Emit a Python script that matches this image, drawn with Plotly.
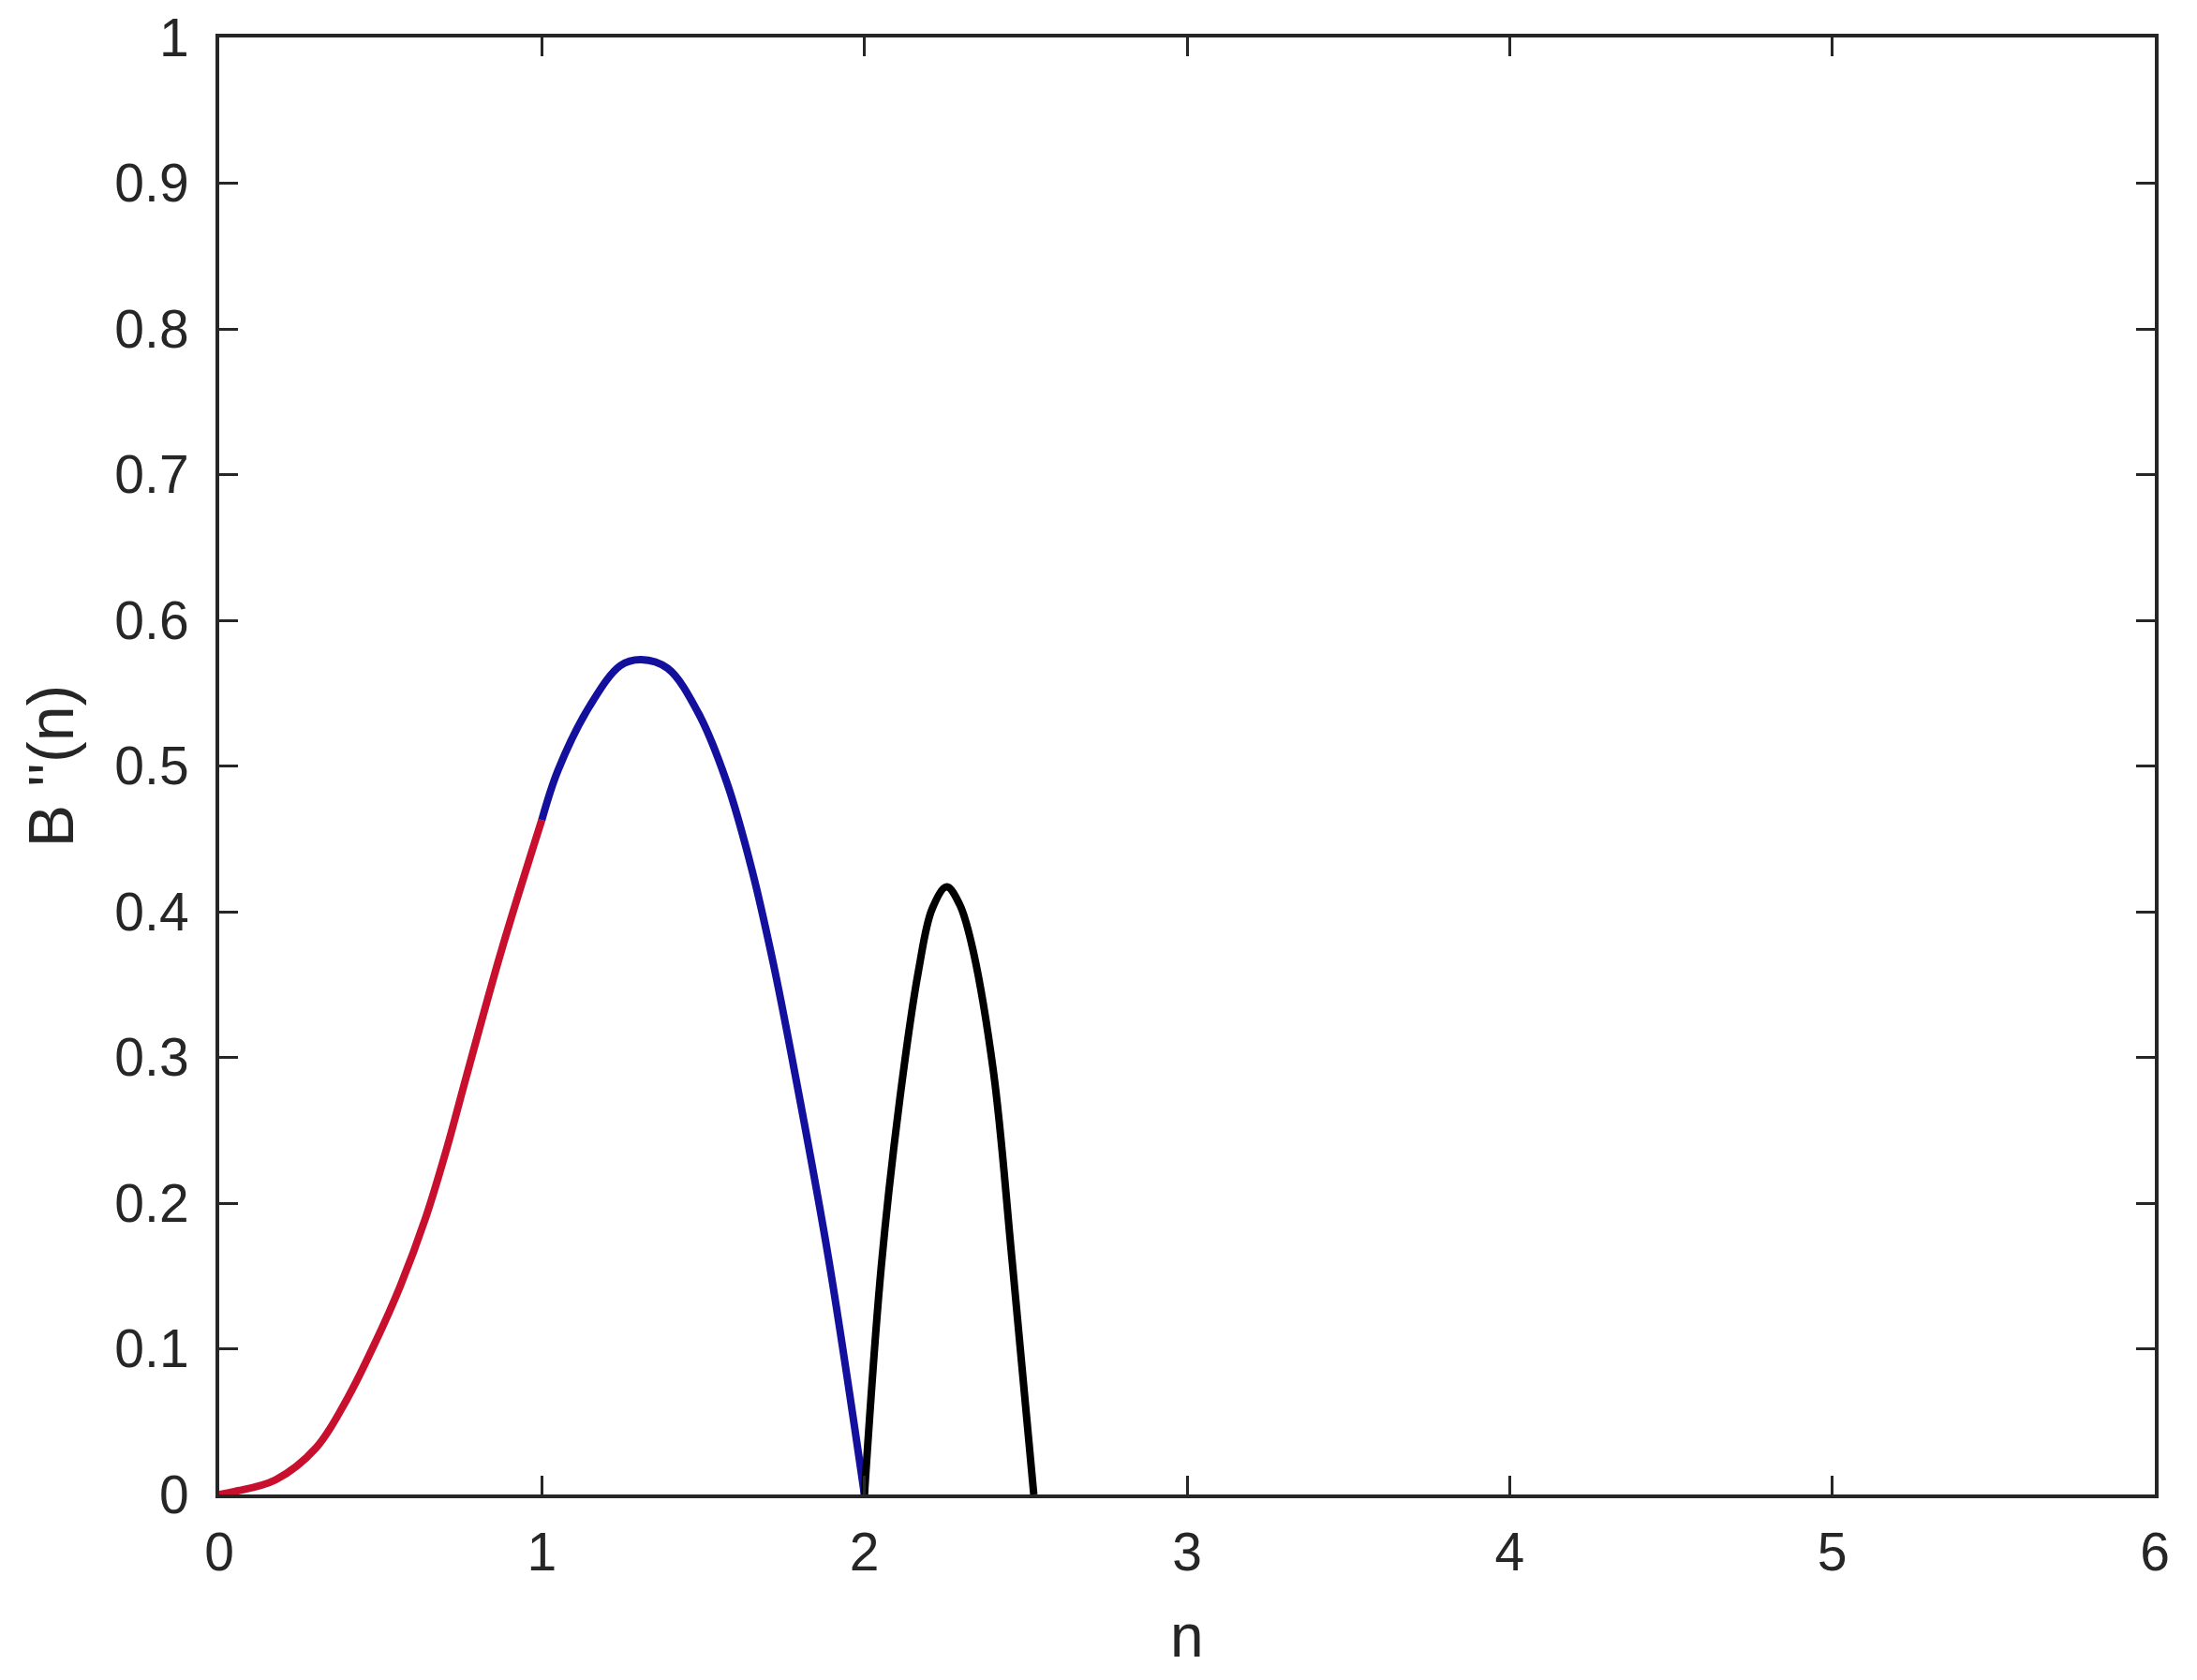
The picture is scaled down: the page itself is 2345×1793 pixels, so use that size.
import plotly.graph_objects as go

# Values
red_n = [0.0, 0.047, 0.174, 0.30, 0.395, 0.483, 0.561, 0.64, 0.706, 0.765, 0.873, 1.0]
red_b = [0.0, 0.002, 0.010, 0.032, 0.065, 0.104, 0.143, 0.190, 0.238, 0.286, 0.372, 0.463]

blue_n = [1.0, 1.05, 1.148, 1.244, 1.308, 1.39, 1.486, 1.573, 1.651, 1.718, 1.776, 1.888, 2.0]
blue_b = [0.463, 0.497, 0.541, 0.569, 0.573, 0.567, 0.536, 0.489, 0.429, 0.364, 0.299, 0.163, 0.0]

black_n = [2.0, 2.052, 2.11, 2.168, 2.21, 2.255, 2.295, 2.332, 2.40, 2.458, 2.525]
black_b = [0.0, 0.156, 0.272, 0.360, 0.402, 0.417, 0.405, 0.378, 0.290, 0.160, 0.0]

x_ticks = [0, 1, 2, 3, 4, 5, 6]
y_ticks = [0, 0.1, 0.2, 0.3, 0.4, 0.5, 0.6, 0.7, 0.8, 0.9, 1]
y_tick_labels = ["0", "0.1", "0.2", "0.3", "0.4", "0.5", "0.6", "0.7", "0.8", "0.9", "1"]

fig = go.Figure()
for xs, ys, col in [(red_n, red_b, "#c8102e"),
                    (blue_n, blue_b, "#14109e"),
                    (black_n, black_b, "#000000")]:
    fig.add_trace(go.Scatter(x=xs, y=ys, mode="lines",
                             line=dict(color=col, width=8, shape="spline", smoothing=1.0),
                             showlegend=False, hoverinfo="skip"))

font_family = "Liberation Sans, Arial, sans-serif"
axis_common = dict(
    showgrid=False, zeroline=False, showline=True, linecolor="#262626", linewidth=4,
    mirror="ticks", ticks="inside", ticklen=20, tickwidth=3, tickcolor="#262626",
    tickfont=dict(family=font_family, size=57, color="#262626"),
    ticklabeloverflow="allow", automargin=False,
)

# the page body has an 8px default margin, compensated here
fig.update_layout(
    width=2329, height=1777,
    margin=dict(l=226, r=37, t=32, b=190),
    paper_bgcolor="white", plot_bgcolor="white",
    xaxis=dict(range=[0, 6], tickvals=x_ticks, ticktext=[str(v) for v in x_ticks],
               ticklabelstandoff=9,
               **axis_common),
    yaxis=dict(range=[0, 1], tickvals=y_ticks, ticktext=y_tick_labels,
               ticklabelstandoff=17,
               title=dict(text="B ''(n)", standoff=23,
                          font=dict(family=font_family, size=68, color="#262626")),
               **axis_common),
)

# x-axis title placed below the tick labels
fig.add_annotation(text="n", xref="paper", yref="paper", x=0.5, y=0,
                   xanchor="center", yanchor="middle", yshift=-151, showarrow=False,
                   font=dict(family=font_family, size=64, color="#262626"))

fig.write_html("out.html")
